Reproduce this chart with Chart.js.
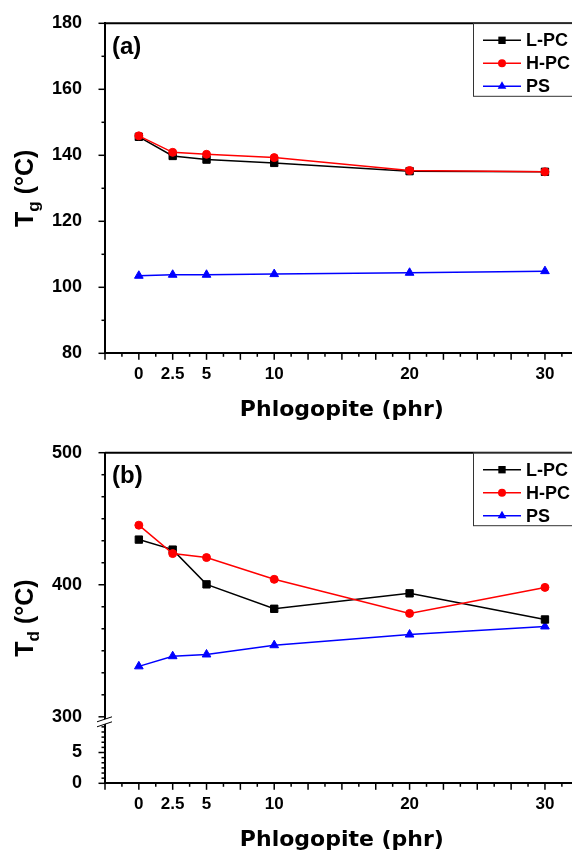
<!DOCTYPE html>
<html>
<head>
<meta charset="utf-8">
<script src="https://cdn.jsdelivr.net/npm/chart.js@4/dist/chart.umd.min.js"></script>
<style>
  html, body { margin: 0; padding: 0; background: #fff; overflow: hidden; width: 572px; height: 854px; }
  canvas { position: absolute; left: 0; }
  #tg { top: 0; }
  #td { top: 430px; }
</style>
</head>
<body>
<canvas id="tg" width="585" height="430"></canvas>
<canvas id="td" width="585" height="430"></canvas>
<script>
// phlogopite loading (phr)
const phr = [0, 2.5, 5, 10, 20, 30]
const xTickLabels = [0, 2.5, 5, 10, 20, 30]

// (a) glass transition temperature
const tgLPC = [145.6, 139.8, 138.7, 137.7, 135.2, 135.0]
const tgHPC = [145.9, 140.9, 140.3, 139.3, 135.4, 135.0]
const tgPS = [103.5, 103.8, 103.8, 104.0, 104.4, 104.9]
const tgTickLabels = [80, 100, 120, 140, 160, 180]

// (b) decomposition temperature
const tdLPC = [434.2, 426.6, 400.3, 381.8, 393.5, 373.7]
const tdHPC = [445.1, 423.6, 420.6, 404.1, 378.3, 398.0]
const tdPS = [338.2, 345.9, 347.2, 354.2, 362.3, 368.4]
const tdTickLabels = [300, 400, 500]
const tdLowTickLabels = [0, 5]

const seriesNames = ['L-PC', 'H-PC', 'PS']
const seriesColors = ['#000000', '#ff0000', '#0000ff']
const seriesMarkers = ['rect', 'circle', 'triangle']
const markerSizes = [5.2, 4, 5]
const drawOrder = [1, 0, 2]

const FONT = '"Liberation Sans", Arial, sans-serif'
const yTickFont = { family: FONT, size: 18, weight: 'bold' }
const xTickFont = { family: FONT, size: 17, weight: 'bold' }

function tickList(from, to, n, majorEvery) {
  const out = []
  for (let i = 0; i <= n; i++) {
    out.push({ value: from + (to - from) * i / n, major: i % majorEvery === 0 })
  }
  return out
}

function labelFor(list) {
  return value => list.some(v => Math.abs(v - value) < 1e-6) ? String(value) : ''
}

function makeDatasets(values, yAxisID) {
  return values.map((vals, i) => ({
    label: seriesNames[i],
    data: phr.map((x, j) => ({ x: x, y: vals[j] })),
    yAxisID: yAxisID,
    borderColor: seriesColors[i],
    backgroundColor: seriesColors[i],
    borderWidth: 1.5,
    pointStyle: seriesMarkers[i],
    pointRadius: markerSizes[i],
    pointBorderWidth: 1,
    tension: 0,
    order: drawOrder[i]
  }))
}

function xScale() {
  return {
    type: 'linear',
    min: -2.5,
    max: 32.5,
    afterFit: s => {
      s.height = 76.7
      s.paddingLeft = 0
      s.paddingRight = 0
    },
    afterBuildTicks: s => { s.ticks = tickList(-2.5, 32.5, 28, 2) },
    grid: { display: false },
    border: { color: '#000', width: 2 },
    ticks: { font: xTickFont, color: '#000', padding: 3, autoSkip: false, maxRotation: 0, callback: labelFor(xTickLabels) },
    title: {
      display: true,
      text: 'Phlogopite (phr)',
      color: '#000',
      font: { family: '"DejaVu Sans", sans-serif', size: 22, weight: 'bold' },
      padding: { top: 0, bottom: 7 }
    }
  }
}

function yFit(s) {
  s.width = 105
  s.paddingTop = 0
  s.paddingBottom = 0
}

function drawMarker(ctx, style, x, y, r) {
  ctx.beginPath()
  if (style === 'rect') {
    const s = r * Math.SQRT1_2
    ctx.rect(x - s, y - s, 2 * s, 2 * s)
  } else if (style === 'circle') {
    ctx.arc(x, y, r, 0, Math.PI * 2)
  } else {
    for (let k = 0; k < 3; k++) {
      const a = k * Math.PI * 2 / 3
      const px = x + Math.sin(a) * r, py = y - Math.cos(a) * r
      if (k === 0) ctx.moveTo(px, py)
      else ctx.lineTo(px, py)
    }
    ctx.closePath()
  }
  ctx.fill()
}

const panelDecor = {
  id: 'panelDecor',
  afterDraw(chart, args, opts) {
    const ctx = chart.ctx
    const area = chart.chartArea
    ctx.save()

    // tick marks (outward, major longer)
    ctx.strokeStyle = '#000'
    ctx.lineWidth = 1.5
    Object.values(chart.scales).forEach(scale => {
      scale.ticks.forEach(t => {
        const len = t.major ? 6.5 : 3.5
        const p = scale.getPixelForValue(t.value)
        ctx.beginPath()
        if (scale.isHorizontal()) {
          ctx.moveTo(p, scale.top)
          ctx.lineTo(p, scale.top + len)
        } else {
          ctx.moveTo(scale.right, p)
          ctx.lineTo(scale.right - len, p)
        }
        ctx.stroke()
      })
    })

    // top frame line
    ctx.lineWidth = 2
    ctx.beginPath()
    ctx.moveTo(area.left, area.top)
    ctx.lineTo(area.right, area.top)
    ctx.stroke()

    // axis break
    if (opts.breakAxis) {
      const yb = chart.scales[opts.breakAxis].bottom
      const L = area.left
      ctx.fillStyle = '#fff'
      ctx.beginPath()
      ctx.moveTo(L - 8, yb + 5)
      ctx.lineTo(L + 7, yb)
      ctx.lineTo(L + 7, yb + 5)
      ctx.lineTo(L - 8, yb + 10)
      ctx.closePath()
      ctx.fill()
      ctx.strokeStyle = '#000'
      ctx.lineWidth = 1
      ctx.beginPath()
      ctx.moveTo(L - 8, yb + 5)
      ctx.lineTo(L + 7, yb)
      ctx.moveTo(L - 8, yb + 10)
      ctx.lineTo(L + 7, yb + 5)
      ctx.stroke()
    }

    // panel tag
    ctx.fillStyle = '#000'
    ctx.font = 'bold 24px ' + FONT
    ctx.textBaseline = 'middle'
    ctx.textAlign = 'left'
    ctx.fillText(opts.tag, area.left + 7, area.top + 24)

    // y title with subscript
    const big = 'bold 25px ' + FONT
    const small = 'bold 17px ' + FONT
    ctx.font = big
    const w1 = ctx.measureText('T').width
    const w3 = ctx.measureText(' (°C)').width
    ctx.font = small
    const w2 = ctx.measureText(opts.sub).width
    const total = w1 + w2 + w3
    ctx.save()
    ctx.translate(33, (area.top + area.bottom) / 2)
    ctx.rotate(-Math.PI / 2)
    ctx.textBaseline = 'alphabetic'
    const x0 = -total / 2
    ctx.font = big
    ctx.fillText('T', x0, 0)
    ctx.font = small
    ctx.fillText(opts.sub, x0 + w1, 6)
    ctx.font = big
    ctx.fillText(' (°C)', x0 + w1 + w2, 0)
    ctx.restore()

    // legend box
    const lx = 473
    const ly = area.top
    ctx.fillStyle = '#fff'
    ctx.fillRect(lx, ly + 1, chart.width - lx, 72)
    ctx.strokeStyle = '#333'
    ctx.lineWidth = 1
    ctx.strokeRect(lx + 0.5, ly, chart.width, 73)
    ctx.font = 'bold 18px ' + FONT
    ctx.textBaseline = 'middle'
    chart.data.datasets.forEach((ds, i) => {
      const yy = ly + 17 + i * 23
      ctx.strokeStyle = ds.borderColor
      ctx.lineWidth = 1.5
      ctx.beginPath()
      ctx.moveTo(lx + 10, yy)
      ctx.lineTo(lx + 48, yy)
      ctx.stroke()
      ctx.fillStyle = ds.backgroundColor
      drawMarker(ctx, ds.pointStyle, lx + 29, yy, ds.pointRadius)
      ctx.fillStyle = '#000'
      ctx.fillText(ds.label, lx + 53, yy + 1)
    })

    ctx.restore()
  }
}

new Chart(document.getElementById('tg'), {
  type: 'line',
  data: { datasets: makeDatasets([tgLPC, tgHPC, tgPS], 'y') },
  options: {
    responsive: false,
    animation: false,
    layout: { padding: { top: 23.3, right: 2, left: 0, bottom: 0 } },
    plugins: {
      legend: { display: false },
      tooltip: { enabled: false },
      panelDecor: { tag: '(a)', sub: 'g' }
    },
    scales: {
      x: xScale(),
      y: {
        type: 'linear',
        min: 80,
        max: 180,
        afterFit: yFit,
        afterBuildTicks: s => { s.ticks = tickList(80, 180, 10, 2) },
        grid: { display: false },
        border: { color: '#000', width: 2 },
        ticks: { font: yTickFont, color: '#000', padding: 15, autoSkip: false, callback: labelFor(tgTickLabels) }
      }
    }
  },
  plugins: [panelDecor]
})

new Chart(document.getElementById('td'), {
  type: 'line',
  data: { datasets: makeDatasets([tdLPC, tdHPC, tdPS], 'y') },
  options: {
    responsive: false,
    animation: false,
    layout: { padding: { top: 22.7, right: 2, left: 0, bottom: 0 } },
    plugins: {
      legend: { display: false },
      tooltip: { enabled: false },
      panelDecor: { tag: '(b)', sub: 'd', breakAxis: 'y' }
    },
    scales: {
      x: xScale(),
      y: {
        type: 'linear',
        position: 'left',
        stack: 'td',
        stackWeight: 263.3,
        weight: 1,
        min: 300,
        max: 500,
        afterFit: yFit,
        afterBuildTicks: s => { s.ticks = tickList(300, 500, 12, 6) },
        grid: { display: false },
        border: { color: '#000', width: 2 },
        ticks: { font: yTickFont, color: '#000', padding: 15, autoSkip: false, callback: labelFor(tdTickLabels) }
      },
      y2: {
        type: 'linear',
        position: 'left',
        stack: 'td',
        stackWeight: 66.3,
        weight: 0,
        min: 0,
        max: 10.8,
        afterFit: yFit,
        afterBuildTicks: s => { s.ticks = tickList(0, 10, 12, 6) },
        grid: { display: false },
        border: { color: '#000', width: 2 },
        ticks: { font: yTickFont, color: '#000', padding: 15, autoSkip: false, callback: labelFor(tdLowTickLabels) }
      }
    }
  },
  plugins: [panelDecor]
})
</script>
</body>
</html>
